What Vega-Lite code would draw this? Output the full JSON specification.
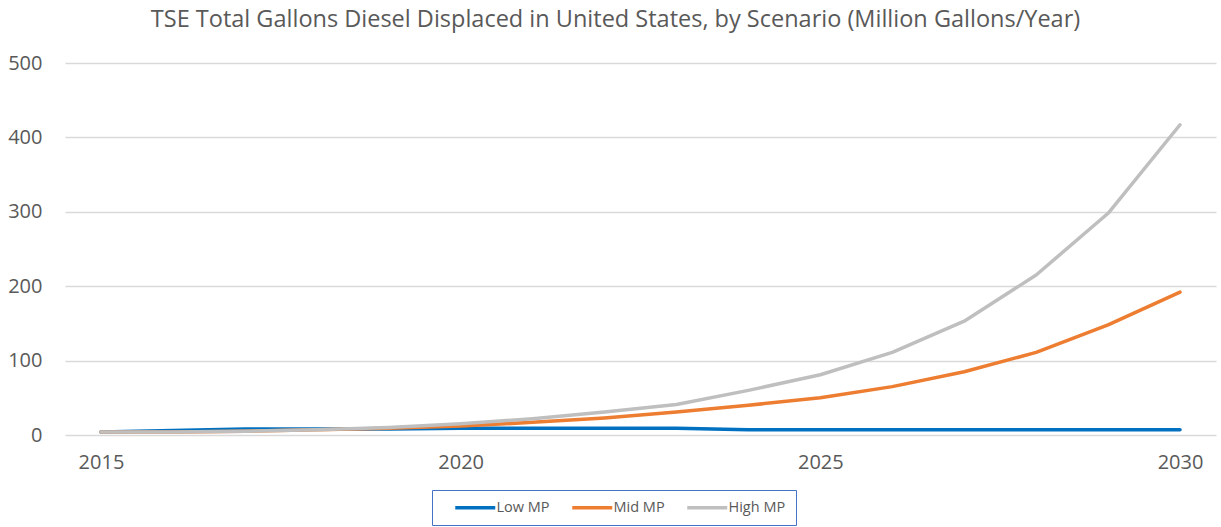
{
  "$schema": "https://vega.github.io/schema/vega-lite/v6.json",
  "autosize": {"type": "none"},
  "width": 1151,
  "height": 372,
  "padding": {"left": 65, "top": 63, "right": 5, "bottom": 92},
  "background": "white",
  "title": {
    "text": "TSE Total Gallons Diesel Displaced in United States, by Scenario (Million Gallons/Year)",
    "font": "Open Sans",
    "fontSize": 23.5,
    "fontWeight": "normal",
    "color": "#595959",
    "anchor": "middle",
    "dx": -25,
    "offset": 22
  },
  "data": {
    "values": [
      {"year": 2015, "scenario": "Low MP", "gallons": 4},
      {"year": 2016, "scenario": "Low MP", "gallons": 6},
      {"year": 2017, "scenario": "Low MP", "gallons": 8},
      {"year": 2018, "scenario": "Low MP", "gallons": 8},
      {"year": 2019, "scenario": "Low MP", "gallons": 8},
      {"year": 2020, "scenario": "Low MP", "gallons": 9},
      {"year": 2021, "scenario": "Low MP", "gallons": 9},
      {"year": 2022, "scenario": "Low MP", "gallons": 9},
      {"year": 2023, "scenario": "Low MP", "gallons": 9},
      {"year": 2024, "scenario": "Low MP", "gallons": 7},
      {"year": 2025, "scenario": "Low MP", "gallons": 7},
      {"year": 2026, "scenario": "Low MP", "gallons": 7},
      {"year": 2027, "scenario": "Low MP", "gallons": 7},
      {"year": 2028, "scenario": "Low MP", "gallons": 7},
      {"year": 2029, "scenario": "Low MP", "gallons": 7},
      {"year": 2030, "scenario": "Low MP", "gallons": 7},
      {"year": 2015, "scenario": "Mid MP", "gallons": 4},
      {"year": 2016, "scenario": "Mid MP", "gallons": 4},
      {"year": 2017, "scenario": "Mid MP", "gallons": 5},
      {"year": 2018, "scenario": "Mid MP", "gallons": 7},
      {"year": 2019, "scenario": "Mid MP", "gallons": 9},
      {"year": 2020, "scenario": "Mid MP", "gallons": 12},
      {"year": 2021, "scenario": "Mid MP", "gallons": 17},
      {"year": 2022, "scenario": "Mid MP", "gallons": 23},
      {"year": 2023, "scenario": "Mid MP", "gallons": 31},
      {"year": 2024, "scenario": "Mid MP", "gallons": 40},
      {"year": 2025, "scenario": "Mid MP", "gallons": 50},
      {"year": 2026, "scenario": "Mid MP", "gallons": 65},
      {"year": 2027, "scenario": "Mid MP", "gallons": 85},
      {"year": 2028, "scenario": "Mid MP", "gallons": 111},
      {"year": 2029, "scenario": "Mid MP", "gallons": 148},
      {"year": 2030, "scenario": "Mid MP", "gallons": 192},
      {"year": 2015, "scenario": "High MP", "gallons": 4},
      {"year": 2016, "scenario": "High MP", "gallons": 4},
      {"year": 2017, "scenario": "High MP", "gallons": 5},
      {"year": 2018, "scenario": "High MP", "gallons": 7},
      {"year": 2019, "scenario": "High MP", "gallons": 10},
      {"year": 2020, "scenario": "High MP", "gallons": 15},
      {"year": 2021, "scenario": "High MP", "gallons": 22},
      {"year": 2022, "scenario": "High MP", "gallons": 31},
      {"year": 2023, "scenario": "High MP", "gallons": 41},
      {"year": 2024, "scenario": "High MP", "gallons": 60},
      {"year": 2025, "scenario": "High MP", "gallons": 81},
      {"year": 2026, "scenario": "High MP", "gallons": 111},
      {"year": 2027, "scenario": "High MP", "gallons": 153},
      {"year": 2028, "scenario": "High MP", "gallons": 215},
      {"year": 2029, "scenario": "High MP", "gallons": 298},
      {"year": 2030, "scenario": "High MP", "gallons": 417}
    ]
  },
  "mark": {"type": "line", "strokeWidth": 3.5, "strokeCap": "round", "strokeJoin": "round"},
  "encoding": {
    "x": {
      "field": "year",
      "type": "quantitative",
      "scale": {"domain": [2014.5, 2030.5], "nice": false, "zero": false},
      "axis": {
        "title": null,
        "values": [2015, 2020, 2025, 2030],
        "format": "d",
        "grid": false,
        "ticks": false,
        "domain": false,
        "labelFont": "Open Sans",
        "labelFontSize": 20,
        "labelColor": "#595959",
        "labelPadding": 17
      }
    },
    "y": {
      "field": "gallons",
      "type": "quantitative",
      "scale": {"domain": [0, 500], "nice": false},
      "axis": {
        "title": null,
        "values": [0, 100, 200, 300, 400, 500],
        "grid": true,
        "gridColor": "#D9D9D9",
        "gridWidth": 1.5,
        "ticks": false,
        "domain": false,
        "labelFont": "Open Sans",
        "labelFontSize": 20,
        "labelColor": "#595959",
        "labelPadding": 23
      }
    },
    "color": {
      "field": "scenario",
      "type": "nominal",
      "scale": {
        "domain": ["Low MP", "Mid MP", "High MP"],
        "range": ["#0070C0", "#ED7D31", "#BFBFBF"]
      },
      "legend": {
        "title": null,
        "orient": "none",
        "legendX": 367,
        "legendY": 427,
        "direction": "horizontal",
        "strokeColor": "#4472C4",
        "padding": 10,
        "symbolType": "M-4,0H4",
        "symbolSize": 100,
        "symbolStrokeWidth": 3.5,
        "symbolOffset": 26,
        "labelFont": "Open Sans",
        "labelFontSize": 14.5,
        "labelColor": "#595959",
        "labelOffset": 14,
        "columnPadding": 9
      }
    }
  },
  "config": {"view": {"stroke": null}}
}
